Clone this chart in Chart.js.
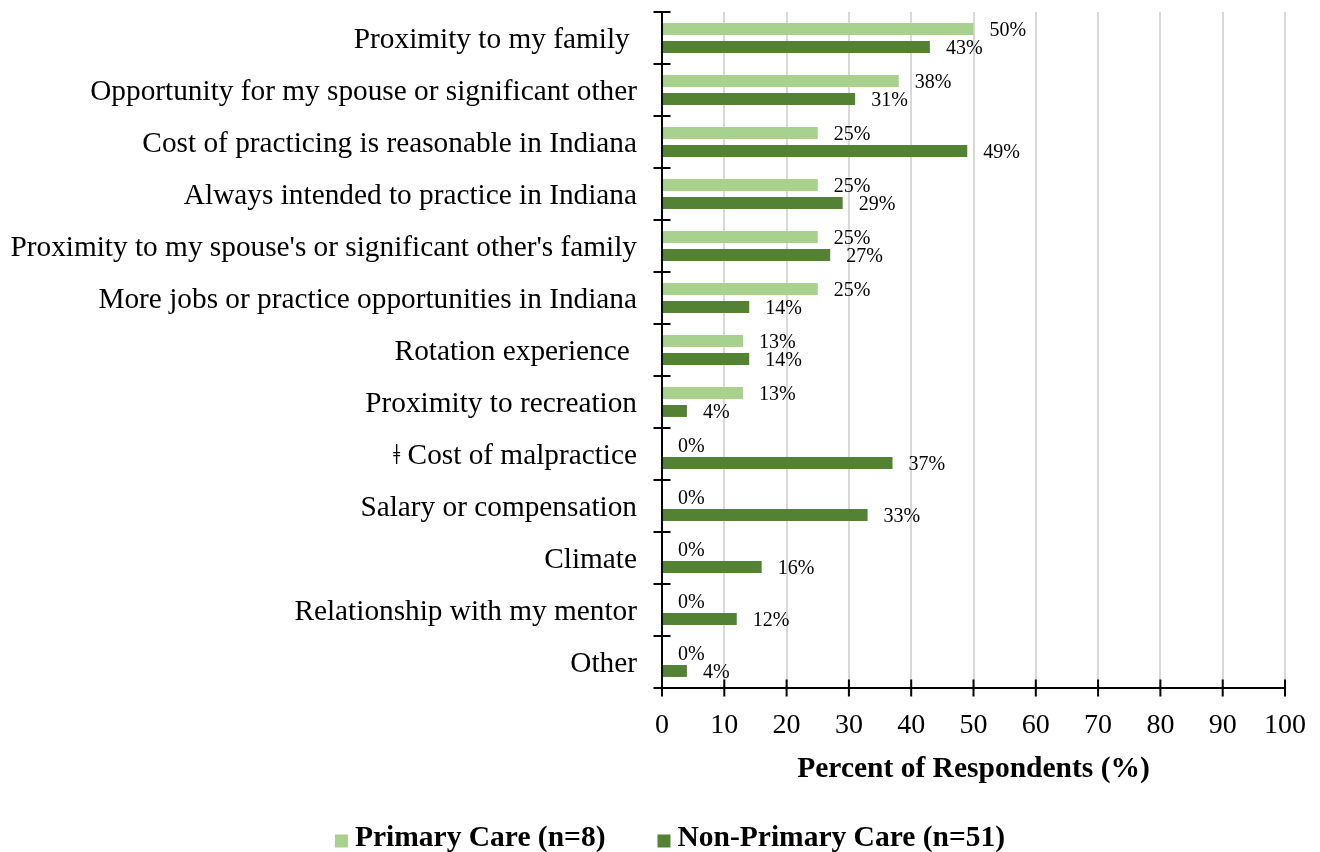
<!DOCTYPE html>
<html>
<head>
<meta charset="utf-8">
<script src="https://cdn.jsdelivr.net/npm/chart.js@4"></script>
<style>
  html, body { margin: 0; padding: 0; background: #fff; }
  #contenedor { width: 1320px; height: 852px; }
</style>
</head>
<body>
<div id="contenedor"><canvas id="grafico"></canvas></div>
<script>
// Motivos para ejercer en Indiana (porcentaje de encuestados)
const motivos = [
  'Proximity to my family ',
  'Opportunity for my spouse or significant other',
  'Cost of practicing is reasonable in Indiana',
  'Always intended to practice in Indiana',
  "Proximity to my spouse's or significant other's family",
  'More jobs or practice opportunities in Indiana',
  'Rotation experience ',
  'Proximity to recreation',
  '\u01C2 Cost of malpractice',
  'Salary or compensation',
  'Climate',
  'Relationship with my mentor',
  'Other'
];
const atencionPrimaria = [50, 38, 25, 25, 25, 25, 13, 13, 0, 0, 0, 0, 0];
const noAtencionPrimaria = [43, 31, 49, 29, 27, 14, 14, 4, 37, 33, 16, 12, 4];
const nombresSeries = ['Primary Care (n=8)', 'Non-Primary Care (n=51)'];
const ejeMin = 0;
const ejeMax = 100;
const ejePaso = 10;

const FUENTE = '"Liberation Serif", "Times New Roman", serif';
const VERDE_CLARO = '#A9D18E';
const VERDE_OSCURO = '#548235';

// ejes negros con marcas que cruzan la línea
const ejesCruzados = {
  id: 'ejesCruzados',
  afterDatasetsDraw(chart) {
    const { ctx, scales: { x, y } } = chart;
    const largo = 8.5;
    const x0 = x.getPixelForValue(ejeMin);
    ctx.save();
    ctx.strokeStyle = '#000';
    ctx.lineWidth = 2;
    ctx.beginPath();
    ctx.moveTo(x0, y.top);
    ctx.lineTo(x0, y.bottom);
    ctx.moveTo(x0 - largo, y.bottom);
    ctx.lineTo(x.right, y.bottom);
    const paso = (y.bottom - y.top) / motivos.length;
    for (let i = 0; i <= motivos.length; i++) {
      const py = y.top + i * paso;
      ctx.moveTo(x0 - largo, py);
      ctx.lineTo(x0 + largo, py);
    }
    x.ticks.forEach(t => {
      const px = x.getPixelForValue(t.value);
      ctx.moveTo(px, y.bottom - largo);
      ctx.lineTo(px, y.bottom + largo);
    });
    ctx.stroke();
    ctx.restore();
  }
};

// etiquetas de valor a la derecha de cada barra
const etiquetasValor = {
  id: 'etiquetasValor',
  afterDatasetsDraw(chart) {
    const { ctx } = chart;
    ctx.save();
    ctx.font = '20px ' + FUENTE;
    ctx.fillStyle = '#000';
    ctx.textBaseline = 'middle';
    ctx.textAlign = 'left';
    chart.data.datasets.forEach((ds, i) => {
      chart.getDatasetMeta(i).data.forEach((barra, j) => {
        ctx.fillText(ds.data[j] + '%', barra.x + 16, barra.y + 2);
      });
    });
    ctx.restore();
  }
};

// leyenda centrada bajo todo el gráfico, cuadros pequeños pegados al texto
const leyenda = {
  id: 'leyenda',
  afterDraw(chart) {
    const { ctx } = chart;
    const caja = 13, hueco = 7, separacion = 52;
    const centroX = chart.width / 2 + 10;
    const centroY = chart.height - 14;
    ctx.save();
    ctx.font = 'bold 29.5px ' + FUENTE;
    ctx.textBaseline = 'middle';
    ctx.textAlign = 'left';
    const anchos = chart.data.datasets.map(ds => caja + hueco + ctx.measureText(ds.label).width);
    const total = anchos.reduce((a, b) => a + b, 0) + separacion * (anchos.length - 1);
    let x = centroX - total / 2;
    chart.data.datasets.forEach((ds, i) => {
      ctx.fillStyle = ds.backgroundColor;
      ctx.fillRect(x, centroY - caja / 2 + 3, caja, caja);
      ctx.fillStyle = '#000';
      ctx.fillText(ds.label, x + caja + hueco, centroY);
      x += anchos[i] + separacion;
    });
    ctx.restore();
  }
};

const ctx = document.getElementById('grafico').getContext('2d');
new Chart(ctx, {
  type: 'bar',
  data: {
    labels: motivos,
    datasets: [{
      label: nombresSeries[0],
      data: atencionPrimaria,
      backgroundColor: VERDE_CLARO,
      categoryPercentage: 0.69,
      barPercentage: 0.667
    }, {
      label: nombresSeries[1],
      data: noAtencionPrimaria,
      backgroundColor: VERDE_OSCURO,
      categoryPercentage: 0.69,
      barPercentage: 0.667
    }]
  },
  options: {
    indexAxis: 'y',
    responsive: true,
    maintainAspectRatio: false,
    animation: false,
    layout: { padding: { top: 12, right: 35, bottom: 68, left: 0 } },
    scales: {
      x: {
        min: ejeMin,
        max: ejeMax,
        ticks: {
          stepSize: ejePaso,
          padding: 21,
          color: '#000',
          font: { family: FUENTE, size: 28 }
        },
        grid: { color: '#D9D9D9', lineWidth: 2, drawTicks: false },
        border: { display: false },
        title: {
          display: true,
          text: 'Percent of Respondents (%)',
          color: '#000',
          font: { family: FUENTE, size: 29.5, weight: 'bold' },
          padding: { top: 0, bottom: -3 }
        },
        afterFit(scale) {
          scale.height = 96;
          scale.paddingLeft = 0;
          scale.paddingRight = 0;
        }
      },
      y: {
        grid: { display: false, drawTicks: false },
        border: { display: false },
        ticks: {
          padding: 25,
          labelOffset: 2,
          color: '#000',
          font: { family: FUENTE, size: 29.3 }
        },
        afterFit(scale) {
          scale.width = 662;
          scale.paddingTop = 0;
          scale.paddingBottom = 0;
        }
      }
    },
    plugins: {
      tooltip: { enabled: false },
      legend: { display: false }
    }
  },
  plugins: [ejesCruzados, etiquetasValor, leyenda]
});
</script>
</body>
</html>
